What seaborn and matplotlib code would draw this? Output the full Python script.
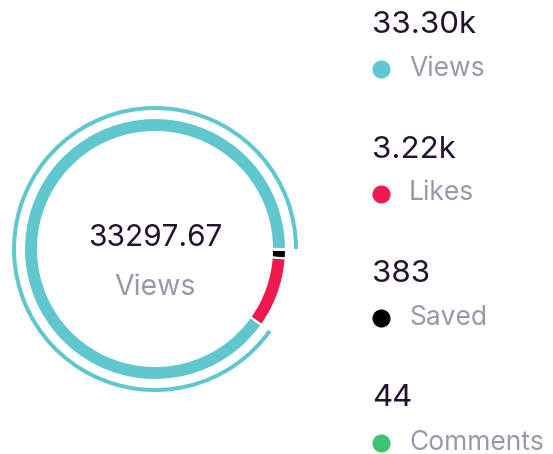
import matplotlib
matplotlib.use("Agg")
import matplotlib.pyplot as plt
import seaborn as sns

# ------------------------------------------------------------------
# Data
# ------------------------------------------------------------------
metrics = ["Views", "Likes", "Saved", "Comments"]
values = [33297.67, 3220, 383, 44]
colors = ["#5fc7cd", "#f0194f", "#000000", "#3dc26f"]
selected = "Views"

sns.set_theme(style="white")
plt.rcParams["font.family"] = ["Inter", "DejaVu Sans"]

VALUE_COLOR = "#24132f"
LABEL_COLOR = "#9a97aa"


def fmt(v):
    if v >= 1000:
        return f"{v / 1000:.2f}k"
    return f"{int(round(v))}"


def main():
    W, H = 553, 454
    fig = plt.figure(figsize=(W / 100, H / 100), dpi=100)
    fig.patch.set_facecolor("white")

    # donut axes: center ~ (155, 249) px, outer radius ~ 143 px
    cx, cy, r = 155, 249, 143
    ax = fig.add_axes([(cx - r) / W, (H - cy - r) / H, 2 * r / W, 2 * r / H])
    ax.set_aspect("equal")
    ax.axis("off")

    # clockwise from 3 o'clock: Comments, Saved, Likes, Views
    order = metrics[::-1]
    vals = values[::-1]
    cols = colors[::-1]

    # thick inner ring
    ax.pie(vals, colors=cols, startangle=0, counterclock=False,
           radius=131 / 143,
           wedgeprops=dict(width=14 / 143, edgecolor="white", linewidth=1.5))

    # thin outer highlight arc for the selected metric
    outer_cols = [c if m == selected else (1, 1, 1, 0) for m, c in zip(order, cols)]
    ax.pie(vals, colors=outer_cols, startangle=0, counterclock=False,
           radius=1.0,
           wedgeprops=dict(width=4 / 143, edgecolor="none", linewidth=0))
    ax.set_xlim(-1, 1)
    ax.set_ylim(-1, 1)

    sel_val = values[metrics.index(selected)]
    ax.text(0, 0.08, f"{sel_val:.2f}", ha="center", va="center",
            fontsize=21.5, color=VALUE_COLOR)
    ax.text(0, -0.27, selected, ha="center", va="center",
            fontsize=20.5, color=LABEL_COLOR)

    # legend on the right
    row_top = 25
    row_gap = 124.5
    for i, (m, v, c) in enumerate(zip(metrics, values, colors)):
        y_val = row_top + i * row_gap
        y_lab = y_val + 44
        fig.text(372 / W, 1 - y_val / H, fmt(v), ha="left", va="center",
                 fontsize=22.5, color=VALUE_COLOR)
        fig.text(409 / W, 1 - y_lab / H, m, ha="left", va="center",
                 fontsize=19, color=LABEL_COLOR)
        fig.lines.append(plt.Line2D([381 / W], [1 - y_lab / H], marker="o",
                                    markersize=12, color=c, linestyle="none",
                                    transform=fig.transFigure, figure=fig))

    fig.savefig("out.png", dpi=100, facecolor="white")


if __name__ == "__main__":
    main()
